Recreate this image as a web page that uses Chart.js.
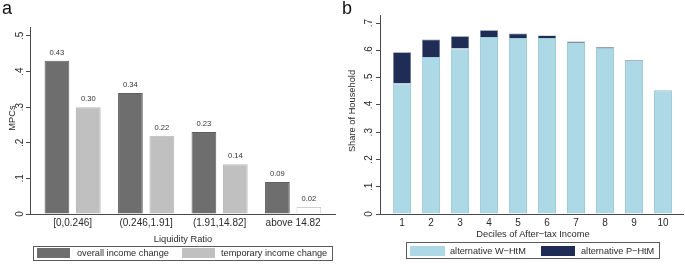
<!DOCTYPE html>
<html>
<head>
<meta charset="utf-8">
<script src="https://cdn.jsdelivr.net/npm/chart.js@4/dist/chart.umd.min.js"></script>
<style>
  html, body { margin: 0; padding: 0; background: #fff; }
  body { width: 685px; height: 266px; position: relative; overflow: hidden;
         font-family: "Liberation Sans", Arial, Helvetica, sans-serif; color: #2a2a2a; }
  .cv { position: absolute; top: 0; }
  .abs { position: absolute; white-space: nowrap; }
  .panel { font-size: 18px; line-height: 18px; color: #111; }
  .xtitle { font-size: 9.3px; transform: translate(-50%, -50%); }
  .legend { position: absolute; border: 1px solid #5a5a5a; box-sizing: border-box; }
  .sw { position: absolute; height: 10px; }
  .lt { position: absolute; font-size: 9.2px; line-height: 10px; white-space: nowrap; }
</style>
</head>
<body>
<canvas id="ca" class="cv" width="340" height="266" style="left:0;width:340px;height:266px"></canvas>
<canvas id="cb" class="cv" width="345" height="266" style="left:340px;width:345px;height:266px"></canvas>

<div class="abs panel" style="left:2px;top:-1px">a</div>
<div class="abs panel" style="left:342px;top:-1px">b</div>

<div class="abs xtitle" style="left:183px;top:238.5px">Liquidity Ratio</div>
<div class="abs xtitle" style="left:533px;top:234px">Deciles of After−tax Income</div>

<div class="legend" style="left:33px;top:246px;width:300px;height:15px"></div>
<div class="sw" style="left:37px;top:248px;width:33px;background:#6e6e6e"></div>
<div class="lt" style="left:77px;top:248px">overall income change</div>
<div class="sw" style="left:182px;top:248px;width:33px;background:#c0c0c0"></div>
<div class="lt" style="left:221px;top:248px">temporary income change</div>

<div class="legend" style="left:406px;top:242px;width:254px;height:17px"></div>
<div class="sw" style="left:410px;top:245.5px;width:35px;background:#add8e6"></div>
<div class="lt" style="left:450px;top:245.5px">alternative W−HtM</div>
<div class="sw" style="left:541px;top:245.5px;width:34px;background:#1f2d56"></div>
<div class="lt" style="left:581px;top:245.5px">alternative P−HtM</div>

<script>
// ---------- Data: panel a ----------
const liquidityCategories = ["[0,0.246]", "(0.246,1.91]", "(1.91,14.82]", "above 14.82"];
const overallIncomeChange = [0.43, 0.34, 0.23, 0.09];
const temporaryIncomeChange = [0.30, 0.22, 0.14, 0.02];
const mpcTicks = [0, 0.1, 0.2, 0.3, 0.4, 0.5];

// ---------- Data: panel b ----------
const deciles = [1, 2, 3, 4, 5, 6, 7, 8, 9, 10];
const altWHtM = [0.479, 0.576, 0.607, 0.649, 0.646, 0.646, 0.628, 0.609, 0.562, 0.453];
const altPHtM = [0.114, 0.064, 0.045, 0.025, 0.016, 0.009, 0.005, 0.003, 0.003, 0.002];
const shareTicks = [0, 0.1, 0.2, 0.3, 0.4, 0.5, 0.6, 0.7];

const FONT = '"Liberation Sans", Arial, Helvetica, sans-serif';
const AXIS = '#4a4a4a';
const TXT = '#2a2a2a';

function stataLabel(v) {
  if (Math.abs(v) < 1e-9) return '0';
  return '.' + Math.round(v * 10);
}

// Draws rotated y tick labels and rotated y title (Stata style)
const rotatedYTicks = {
  id: 'rotatedYTicks',
  afterDraw(chart, args, opts) {
    const ys = chart.scales.y;
    const ctx = chart.ctx;
    ctx.save();
    ctx.fillStyle = TXT;
    ctx.textAlign = 'center';
    ctx.textBaseline = 'middle';
    ctx.font = '10px ' + FONT;
    ys.ticks.forEach(t => {
      const y = ys.getPixelForValue(t.value);
      ctx.save();
      ctx.translate(opts.x, y);
      ctx.rotate(-Math.PI / 2);
      ctx.fillText(stataLabel(t.value), 0, 0);
      ctx.restore();
    });
    ctx.font = '9.3px ' + FONT;
    ctx.save();
    ctx.translate(opts.titleX, opts.titleY);
    ctx.rotate(-Math.PI / 2);
    ctx.fillText(opts.title, 0, 0);
    ctx.restore();
    ctx.restore();
  }
};

// Value labels above bars
const valueLabels = {
  id: 'valueLabels',
  afterDatasetsDraw(chart) {
    const ctx = chart.ctx;
    ctx.save();
    ctx.fillStyle = '#333';
    ctx.font = '7.6px ' + FONT;
    ctx.textAlign = 'center';
    ctx.textBaseline = 'bottom';
    chart.data.datasets.forEach((ds, di) => {
      const meta = chart.getDatasetMeta(di);
      meta.data.forEach((el, i) => {
        const v = ds.data[i].y;
        ctx.fillText(v.toFixed(2), el.x, el.y - 4);
      });
    });
    ctx.restore();
  }
};

// ---------- Panel a ----------
new Chart(document.getElementById('ca'), {
  type: 'bar',
  data: {
    datasets: [
      {
        label: 'overall income change',
        data: overallIncomeChange.map((v, i) => ({ x: i + 1, y: v })),
        backgroundColor: '#6e6e6e',
        borderColor: '#5f5f5f',
        borderWidth: 1
      },
      {
        label: 'temporary income change',
        data: temporaryIncomeChange.map((v, i) => ({ x: i + 1, y: v })),
        backgroundColor: ['#c0c0c0', '#c0c0c0', '#c0c0c0', '#ffffff'],
        borderColor: ['#b8b8b8', '#b8b8b8', '#b8b8b8', '#d0d0d0'],
        borderWidth: 1
      }
    ]
  },
  options: {
    responsive: false,
    animation: false,
    events: [],
    layout: { padding: { left: 0, right: 5, top: 27, bottom: 0 } },
    categoryPercentage: 0.855,
    barPercentage: 0.787,
    plugins: {
      legend: { display: false },
      tooltip: { enabled: false },
      rotatedYTicks: { x: 20, title: 'MPCs', titleX: 12, titleY: 118 }
    },
    scales: {
      x: {
        type: 'linear',
        offset: false,
        min: 0.42,
        max: 4.57,
        afterBuildTicks: s => { s.ticks = liquidityCategories.map((c, i) => ({ value: i + 1 })); },
        afterFit: s => { s.height = 52; },
        grid: { display: false, drawTicks: false, offset: false },
        border: { display: true, color: AXIS, width: 1 },
        ticks: {
          color: TXT,
          font: { family: FONT, size: 10 },
          padding: 3,
          maxRotation: 0,
          autoSkip: false,
          callback: v => liquidityCategories[Math.round(v) - 1]
        }
      },
      y: {
        min: 0,
        max: 0.525,
        afterBuildTicks: s => { s.ticks = mpcTicks.map(v => ({ value: v })); },
        afterFit: s => { s.width = 30; },
        grid: { display: true, drawOnChartArea: false, drawTicks: true, tickLength: 4, color: AXIS },
        border: { display: true, color: AXIS, width: 1 },
        ticks: { display: false }
      }
    }
  },
  plugins: [rotatedYTicks, valueLabels]
});

// ---------- Panel b ----------
new Chart(document.getElementById('cb'), {
  type: 'bar',
  data: {
    datasets: [
      {
        label: 'alternative W−HtM',
        data: altWHtM.map((v, i) => ({ x: deciles[i], y: v })),
        backgroundColor: '#add8e6',
        borderColor: '#9fcbd9',
        borderWidth: 1
      },
      {
        label: 'alternative P−HtM',
        data: altPHtM.map((v, i) => ({ x: deciles[i], y: v })),
        backgroundColor: '#1f2d56',
        borderColor: '#6a7fa0',
        borderWidth: 0.6
      }
    ]
  },
  options: {
    responsive: false,
    animation: false,
    events: [],
    layout: { padding: { left: 0, right: 2, top: 15, bottom: 0 } },
    categoryPercentage: 0.62,
    barPercentage: 1.0,
    plugins: {
      legend: { display: false },
      tooltip: { enabled: false },
      rotatedYTicks: { x: 29, title: 'Share of Household', titleX: 12, titleY: 111 }
    },
    scales: {
      x: {
        type: 'linear',
        offset: false,
        stacked: true,
        min: 0.24,
        max: 10.69,
        afterBuildTicks: s => { s.ticks = deciles.map(v => ({ value: v })); },
        afterFit: s => { s.height = 52; },
        grid: { display: false, drawTicks: false, offset: false },
        border: { display: true, color: AXIS, width: 1 },
        ticks: {
          color: TXT,
          font: { family: FONT, size: 10 },
          padding: 3,
          maxRotation: 0,
          autoSkip: false,
          callback: v => String(v)
        }
      },
      y: {
        stacked: true,
        min: 0,
        max: 0.73,
        afterBuildTicks: s => { s.ticks = shareTicks.map(v => ({ value: v })); },
        afterFit: s => { s.width = 40; },
        grid: { display: true, drawOnChartArea: false, drawTicks: true, tickLength: 4, color: AXIS },
        border: { display: true, color: AXIS, width: 1 },
        ticks: { display: false }
      }
    }
  },
  plugins: [rotatedYTicks]
});
</script>
</body>
</html>
